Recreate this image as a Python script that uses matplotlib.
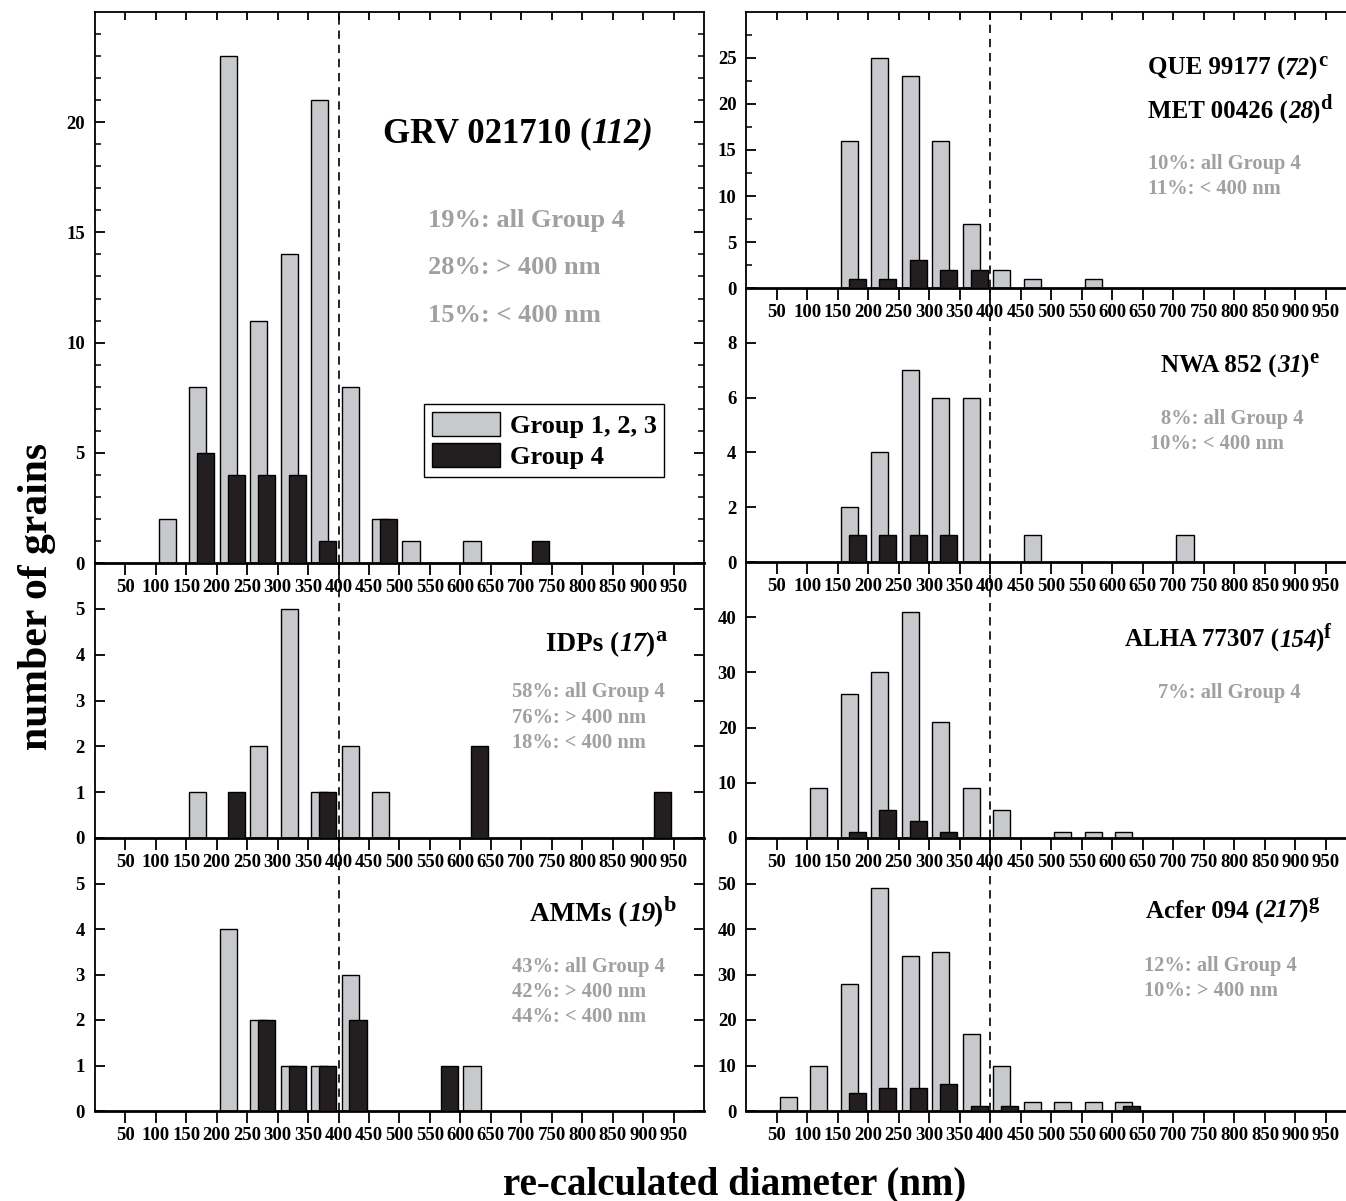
import numpy as np
import matplotlib
matplotlib.use('Agg')
import matplotlib.pyplot as plt
from matplotlib.patches import Patch
from matplotlib.transforms import IdentityTransform

plt.rcParams['font.family'] = 'Liberation Serif'
plt.rcParams['font.weight'] = 'bold'

# bin starts (nm), 50 nm wide bins
bins = [0, 50, 100, 150, 200, 250, 300, 350, 400, 450,
        500, 550, 600, 650, 700, 750, 800, 850, 900, 950]
tick_pos = [50, 100, 150, 200, 250, 300, 350, 400, 450, 500,
            550, 600, 650, 700, 750, 800, 850, 900, 950]

# counts per bin: Group 1,2,3 (grey) and Group 4 (black)
grv_g = [0, 0, 2, 8, 23, 11, 14, 21, 8, 2, 1, 0, 1, 0, 0, 0, 0, 0, 0, 0]
grv_b = [0, 0, 0, 5, 4, 4, 4, 1, 0, 2, 0, 0, 0, 0, 1, 0, 0, 0, 0, 0]
idp_g = [0, 0, 0, 1, 0, 2, 5, 1, 2, 1, 0, 0, 0, 0, 0, 0, 0, 0, 0, 0]
idp_b = [0, 0, 0, 0, 1, 0, 0, 1, 0, 0, 0, 0, 2, 0, 0, 0, 0, 0, 1, 0]
amm_g = [0, 0, 0, 0, 4, 2, 1, 1, 3, 0, 0, 0, 1, 0, 0, 0, 0, 0, 0, 0]
amm_b = [0, 0, 0, 0, 0, 2, 1, 1, 2, 0, 0, 1, 0, 0, 0, 0, 0, 0, 0, 0]
que_g = [0, 0, 0, 16, 25, 23, 16, 7, 2, 1, 0, 1, 0, 0, 0, 0, 0, 0, 0, 0]
que_b = [0, 0, 0, 1, 1, 3, 2, 2, 0, 0, 0, 0, 0, 0, 0, 0, 0, 0, 0, 0]
nwa_g = [0, 0, 0, 2, 4, 7, 6, 6, 0, 1, 0, 0, 0, 0, 1, 0, 0, 0, 0, 0]
nwa_b = [0, 0, 0, 1, 1, 1, 1, 0, 0, 0, 0, 0, 0, 0, 0, 0, 0, 0, 0, 0]
alh_g = [0, 0, 9, 26, 30, 41, 21, 9, 5, 0, 1, 1, 1, 0, 0, 0, 0, 0, 0, 0]
alh_b = [0, 0, 0, 1, 5, 3, 1, 0, 0, 0, 0, 0, 0, 0, 0, 0, 0, 0, 0, 0]
acf_g = [0, 3, 10, 28, 49, 34, 35, 17, 10, 2, 2, 2, 2, 0, 0, 0, 0, 0, 0, 0]
acf_b = [0, 0, 0, 4, 5, 5, 6, 1, 1, 0, 0, 0, 1, 0, 0, 0, 0, 0, 0, 0]

FILL_G = '#c8c9cc'
FILL_B = '#231f20'
STAT_C = '#a0a0a0'

W, H = 1346, 1201
fig = plt.figure(figsize=(W / 100, H / 100), dpi=100)
renderer = fig.canvas.get_renderer()


def rect(x0, y0, x1, y1):
    return [x0 / W, 1 - y1 / H, (x1 - x0) / W, (y1 - y0) / H]


def panel(r, gray, black, ymax, ystep, xmax, top=False, right=True, minor=None):
    ax = fig.add_axes(r)
    x = np.array(bins)
    g = np.array(gray)
    b = np.array(black)
    ax.bar(x[g > 0] + 5, g[g > 0], 28, align='edge', color=FILL_G,
           edgecolor='k', lw=1, zorder=2)
    ax.bar(x[b > 0] + 18, b[b > 0], 28, align='edge', color=FILL_B,
           edgecolor='k', lw=1, zorder=3)
    ax.axvline(400, color='k', lw=1.2, ls=(0, (5, 3.5)), zorder=4)
    ax.set_xlim(0, xmax)
    ax.set_ylim(0, ymax)
    ax.set_xticks(tick_pos)
    ax.set_xticklabels([str(t) for t in tick_pos])
    ax.set_yticks(np.arange(0, ymax, ystep))
    if minor:
        ax.set_yticks(np.arange(0, ymax, minor), minor=True)
    ax.tick_params(axis='x', which='major', direction='out', length=8.5,
                   width=1.3, pad=3, labelsize=13.5)
    ax.tick_params(axis='y', which='major', direction='in', length=7,
                   width=1.3, pad=7, labelsize=13.5, right=right)
    ax.tick_params(axis='y', which='minor', direction='in', length=4.5,
                   width=1.1, right=right)
    for s in ['left', 'right', 'top']:
        ax.spines[s].set_linewidth(1.3)
    ax.spines['bottom'].set_linewidth(2.0)
    ax.spines['right'].set_visible(right)
    ax.spines['top'].set_visible(top)
    if top:
        ax.tick_params(axis='x', which='major', top=True)
        # top ticks point inward
        for t in ax.xaxis.get_major_ticks():
            t.tick2line.set_marker(3)
            t.tick2line.set_markersize(6)
    ax.patch.set_alpha(0)
    return ax


def label(ax, x, y, s, size, color='k'):
    ax.text(x, y, s, transform=ax.transAxes, fontsize=size, color=color,
            fontweight='bold', ha='left', va='baseline', zorder=5)


def title(ax, x, y, parts, size, sup=None):
    # parts: list of (text, italic) drawn one after another on one baseline
    px, py = ax.transAxes.transform((x, y))
    for s, ital in parts:
        t = fig.text(px, py, s, transform=IdentityTransform(), fontsize=size,
                     fontweight='bold', fontstyle='italic' if ital else 'normal',
                     ha='left', va='baseline')
        px = t.get_window_extent(renderer).x1 - (2 if ital else 0)
    if sup:
        fig.text(px + 1, py + size * 0.5, sup, transform=IdentityTransform(),
                 fontsize=size * 0.82, fontweight='bold', ha='left', va='baseline')


LX0, LX1 = 94.7, 704.2
RX0 = 746.1
xmax_r = (W - RX0) / 0.6104

# left column
ax = panel(rect(LX0, 12, LX1, 563), grv_g, grv_b, 25, 5, 1000, top=True, minor=1)
title(ax, 0.473, 0.764, [('GRV 021710 (', False), ('112)', True)], 25)
label(ax, 0.547, 0.610, '19%: all Group 4', 19, STAT_C)
label(ax, 0.547, 0.524, '28%: > 400 nm', 19, STAT_C)
label(ax, 0.547, 0.437, '15%: < 400 nm', 19, STAT_C)
handles = [Patch(facecolor=FILL_G, edgecolor='k', lw=1, label='Group 1, 2, 3'),
           Patch(facecolor=FILL_B, edgecolor='k', lw=1, label='Group 4')]
leg = ax.legend(handles=handles, loc='lower left', bbox_to_anchor=(0.540, 0.156),
                borderaxespad=0, fontsize=19, handlelength=2.6, handleheight=1.0,
                handletextpad=0.35, borderpad=0.3, labelspacing=0.2,
                fancybox=False, framealpha=1, edgecolor='k')
leg.get_frame().set_linewidth(1.0)

ax = panel(rect(LX0, 563, LX1, 838), idp_g, idp_b, 6, 1, 1000)
title(ax, 0.741, 0.681, [('IDPs (', False), ('17', True), (')', False)], 19.5, 'a')
label(ax, 0.684, 0.512, '58%: all Group 4', 14.8, STAT_C)
label(ax, 0.684, 0.419, '76%: > 400 nm', 14.8, STAT_C)
label(ax, 0.684, 0.326, '18%: < 400 nm', 14.8, STAT_C)

ax = panel(rect(LX0, 838, LX1, 1111), amm_g, amm_b, 6, 1, 1000)
title(ax, 0.715, 0.697, [('AMMs (', False), ('19', True), (')', False)], 19.5, 'b')
label(ax, 0.684, 0.510, '43%: all Group 4', 14.8, STAT_C)
label(ax, 0.684, 0.419, '42%: > 400 nm', 14.8, STAT_C)
label(ax, 0.684, 0.327, '44%: < 400 nm', 14.8, STAT_C)

# right column (cut at the right edge of the figure)
ax = panel(rect(RX0, 12, W, 288), que_g, que_b, 30, 5, xmax_r, top=True,
           right=False, minor=2.5)
title(ax, 0.670, 0.773, [('QUE 99177 (', False), ('72', True), (')', False)], 18, 'c')
title(ax, 0.670, 0.615, [('MET 00426 (', False), ('28', True), (')', False)], 18, 'd')
label(ax, 0.670, 0.430, '10%: all Group 4', 14.8, STAT_C)
label(ax, 0.670, 0.339, '11%: < 400 nm', 14.8, STAT_C)

ax = panel(rect(RX0, 288, W, 562), nwa_g, nwa_b, 10, 2, xmax_r, right=False)
title(ax, 0.692, 0.693, [('NWA 852 (', False), ('31', True), (')', False)], 18, 'e')
label(ax, 0.692, 0.502, '8%: all Group 4', 14.8, STAT_C)
label(ax, 0.674, 0.411, '10%: < 400 nm', 14.8, STAT_C)

ax = panel(rect(RX0, 562, W, 838), alh_g, alh_b, 50, 10, xmax_r, right=False)
title(ax, 0.632, 0.692, [('ALHA 77307 (', False), ('154', True), (')', False)], 18, 'f')
label(ax, 0.686, 0.507, '7%: all Group 4', 14.8, STAT_C)

ax = panel(rect(RX0, 838, W, 1111), acf_g, acf_b, 60, 10, xmax_r, right=False)
title(ax, 0.667, 0.710, [('Acfer 094 (', False), ('217', True), (')', False)], 18, 'g')
label(ax, 0.664, 0.512, '12%: all Group 4', 14.8, STAT_C)
label(ax, 0.664, 0.421, '10%: > 400 nm', 14.8, STAT_C)

fig.text(735 / W, 1 - 1185 / H, 're-calculated diameter (nm)', fontsize=28,
         fontweight='bold', ha='center', va='center')
fig.text(37 / W, 1 - 596 / H, 'number of grains', fontsize=30,
         fontweight='bold', ha='center', va='center', rotation=90)

fig.savefig('out.png', dpi=100)
